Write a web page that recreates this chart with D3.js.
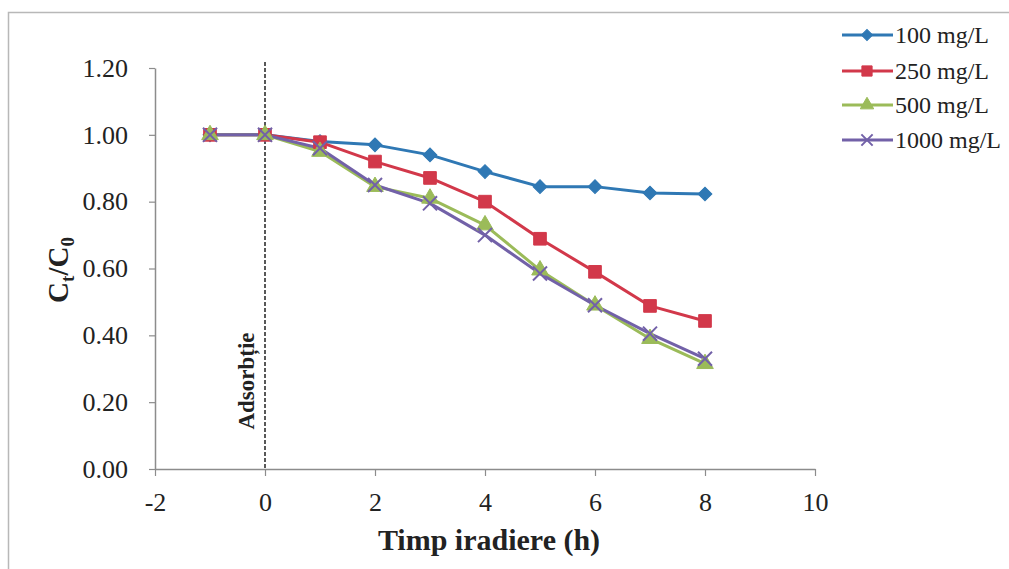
<!DOCTYPE html>
<html><head><meta charset="utf-8">
<script src="https://cdn.jsdelivr.net/npm/d3@7"></script>
<style>body{margin:0;background:#fff}svg{display:block}</style>
</head><body>
<svg id="c" width="1009" height="569"></svg>
<script>
const hours = [-1,0,1,2,3,4,5,6,7,8];
const s100  = [1.00,1.00,0.98,0.97,0.94,0.89,0.845,0.845,0.826,0.823];
const s250  = [1.00,1.00,0.978,0.92,0.871,0.80,0.689,0.59,0.488,0.443];
const s500  = [1.00,1.00,0.95,0.845,0.81,0.73,0.595,0.49,0.39,0.315];
const s1000 = [1.00,1.00,0.96,0.85,0.795,0.70,0.585,0.49,0.405,0.33];
const seriesNames = ["100 mg/L","250 mg/L","500 mg/L","1000 mg/L"];
const xTicks = [-2,0,2,4,6,8,10];
const yTicks = [0,0.2,0.4,0.6,0.8,1.0,1.2];

const colors = ["#2f78b4","#d2384a","#9bbb59","#7261a8"];
const symbols = ["diamond","square","triangle","x"];
const series = [s100,s250,s500,s1000].map((v,i)=>({name:seriesNames[i],values:v,color:colors[i],sym:symbols[i]}));

const svg = d3.select("#c");
const font = "'Liberation Serif','Times New Roman',serif";

svg.append("rect").attr("x",8.5).attr("y",12.5).attr("width",1010).attr("height",560)
  .attr("fill","none").attr("stroke","#b8b8b8").attr("stroke-width",1.5);

const x = d3.scaleLinear().domain([-2,10]).range([155,815]);
const y = d3.scaleLinear().domain([0,1.2]).range([469,68]);

// axes
const yAxis = svg.append("g").attr("transform","translate(155,0)")
  .call(d3.axisLeft(y).tickValues(yTicks).tickFormat(d3.format(".2f")).tickSize(6).tickSizeOuter(0));
const xAxis = svg.append("g").attr("transform","translate(0,469)")
  .call(d3.axisBottom(x).tickValues(xTicks).tickFormat(d=>String(d)).tickSize(7).tickSizeOuter(0));
[xAxis,yAxis].forEach(a=>{
  a.select(".domain").attr("stroke","#8c8c8c").attr("stroke-width",1.5);
  a.selectAll(".tick line").attr("stroke","#8c8c8c").attr("stroke-width",1.2);
  a.selectAll("text").attr("font-family",font).attr("font-size",26).attr("fill","#222");
});
yAxis.selectAll("text").attr("x",-27);
xAxis.selectAll("text").attr("y",24);

// dashed line at x=0
svg.append("line").attr("x1",x(0)).attr("x2",x(0)).attr("y1",62).attr("y2",469)
  .attr("stroke","#222").attr("stroke-width",1.5).attr("stroke-dasharray","4,2");
svg.append("text").attr("transform",`translate(${x(0)-11},381) rotate(-90)`)
  .attr("text-anchor","middle").attr("font-family",font).attr("font-weight","bold")
  .attr("font-size",23).attr("fill","#222").text("Adsorbție");

// lines
const line = d3.line().x((d,i)=>x(hours[i])).y(d=>y(d));
series.forEach(s=>{
  svg.append("path").datum(s.values).attr("d",line).attr("fill","none")
    .attr("stroke",s.color).attr("stroke-width",3).attr("stroke-linejoin","round");
});
function marker(g,s,cx,cy,k){
  let p;
  if(s.sym==="diamond"){
    p = g.append("path").attr("d",d3.symbol(d3.symbolSquare,95*k)()).attr("transform",`translate(${cx},${cy}) rotate(45)`);
  } else if(s.sym==="square"){
    p = g.append("path").attr("d",d3.symbol(d3.symbolSquare,160*k)()).attr("transform",`translate(${cx},${cy})`);
  } else if(s.sym==="triangle"){
    p = g.append("path").attr("d",d3.symbol(d3.symbolTriangle,120*k)()).attr("transform",`translate(${cx},${cy})`);
  } else {
    p = g.append("path").attr("d",d3.symbol(d3.symbolX,130*k)()).attr("transform",`translate(${cx},${cy})`);
    p.attr("fill","none").attr("stroke",s.color).attr("stroke-width",2);
    return;
  }
  p.attr("fill",s.color).attr("stroke",s.color).attr("stroke-width",1);
}
series.forEach(s=>{
  const g = svg.append("g");
  s.values.forEach((v,i)=>marker(g,s,x(hours[i]),y(v),1));
});

// legend
const legY = [35,71,105,140];
series.forEach((s,i)=>{
  const g = svg.append("g");
  g.append("line").attr("x1",842).attr("x2",893).attr("y1",legY[i]).attr("y2",legY[i])
    .attr("stroke",s.color).attr("stroke-width",3);
  marker(g,s,867,legY[i],0.65);
  g.append("text").attr("x",895).attr("y",legY[i]+8).attr("font-family",font)
    .attr("font-size",24).attr("fill","#222").text(s.name);
});

// axis titles
svg.append("text").attr("x",489).attr("y",550).attr("text-anchor","middle")
  .attr("font-family",font).attr("font-weight","bold").attr("font-size",30).attr("fill","#222")
  .text("Timp iradiere (h)");
const yt = svg.append("text").attr("transform","translate(68,270) rotate(-90)").attr("text-anchor","middle")
  .attr("font-family",font).attr("font-weight","bold").attr("font-size",29).attr("fill","#222");
yt.append("tspan").text("C");
yt.append("tspan").attr("font-size",19).attr("dy",6).text("t");
yt.append("tspan").attr("dy",-6).text("/C");
yt.append("tspan").attr("font-size",19).attr("dy",6).text("0");
</script>
</body></html>
